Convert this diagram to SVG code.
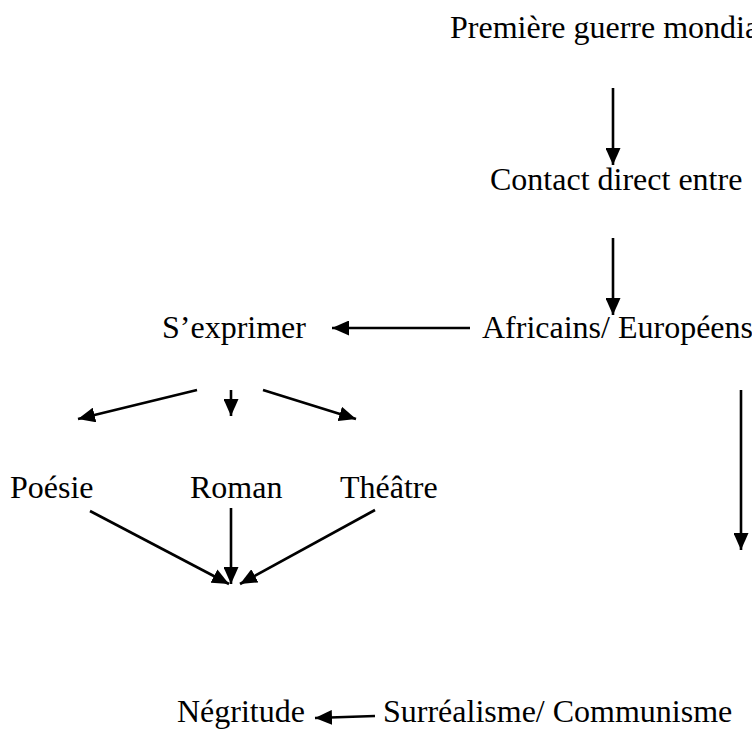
<svg xmlns="http://www.w3.org/2000/svg" width="752" height="729" viewBox="0 0 752 729">
<style>
text{font-family:"Liberation Serif","Times New Roman",serif;font-size:32px;fill:#000}
.c line{stroke:#000;stroke-width:2.6;fill:none}
</style>
<defs>
<marker id="a" viewBox="0 0 17 15" refX="17" refY="7.5" markerWidth="17" markerHeight="15" markerUnits="userSpaceOnUse" orient="auto"><path d="M0,0L17,7.5L0,15z" fill="#000"/></marker>
</defs>
<rect width="752" height="729" fill="#fff"/>
<g id="n1"><text x="450" y="38">Première guerre mondia</text></g>
<g id="n2"><text x="490" y="190">Contact direct entre</text></g>
<g id="n3"><text x="482" y="338">Africains/ Européens</text></g>
<g id="n4"><text x="162" y="338">S’exprimer</text></g>
<g id="n5"><text x="10" y="498">Poésie</text></g>
<g id="n6"><text x="190" y="498">Roman</text></g>
<g id="n7"><text x="340" y="498">Théâtre</text></g>
<g id="n8"><text x="177" y="722">Négritude</text></g>
<g id="n9"><text x="383" y="722">Surréalisme/ Communisme</text></g>
<g class="c" id="connectors">
<line x1="613" y1="88" x2="613" y2="165" marker-end="url(#a)"/>
<line x1="613" y1="238" x2="613" y2="315" marker-end="url(#a)"/>
<line x1="470" y1="328" x2="332" y2="328" marker-end="url(#a)"/>
<line x1="197" y1="390" x2="78" y2="419" marker-end="url(#a)"/>
<line x1="231" y1="390" x2="231" y2="416" marker-end="url(#a)"/>
<line x1="263" y1="390" x2="356" y2="419" marker-end="url(#a)"/>
<line x1="90" y1="511" x2="229" y2="584" marker-end="url(#a)"/>
<line x1="231" y1="508" x2="231" y2="584" marker-end="url(#a)"/>
<line x1="375" y1="510" x2="240" y2="584" marker-end="url(#a)"/>
<line x1="741" y1="390" x2="741" y2="550" marker-end="url(#a)"/>
<line x1="375" y1="716" x2="315" y2="718" marker-end="url(#a)"/>
</g>
</svg>
